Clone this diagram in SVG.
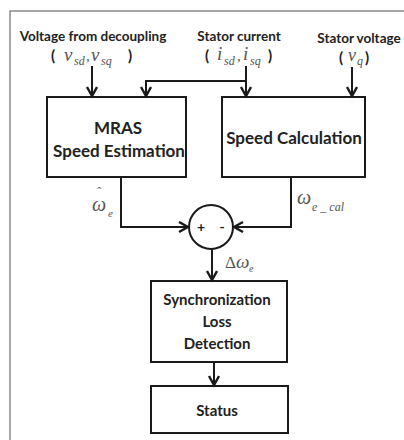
<svg xmlns="http://www.w3.org/2000/svg" width="404" height="440" viewBox="0 0 404 440">
<style>
.lbl{font-family:Lato,"Open Sans","Liberation Sans",sans-serif;font-weight:bold;fill:#222;}
.m{font-family:"Liberation Serif","DejaVu Serif",serif;font-style:italic;fill:#555;}
.up{font-family:"Liberation Serif","DejaVu Serif",serif;fill:#555;}
.box{fill:#fff;stroke:#1a1a1a;stroke-width:2;}
.ln{fill:none;stroke:#1a1a1a;stroke-width:2;}
</style>
<defs>
<marker id="arr" markerUnits="userSpaceOnUse" markerWidth="14" markerHeight="14" refX="11" refY="6" orient="auto">
<path d="M2,1 L11,6 L2,11" fill="none" stroke="#1a1a1a" stroke-width="2.4"/>
</marker>
</defs>
<rect x="0" y="0" width="404" height="440" fill="#fff"/>
<rect x="10" y="11" width="410" height="440" fill="none" stroke="#8a8a8a" stroke-width="1.5"/>

<g id="in-voltage-decoupling">
<text class="lbl" x="93" y="41" font-size="13.5" text-anchor="middle">Voltage from decoupling</text>
<text class="lbl" x="51" y="61" font-size="15">(</text>
<text class="m" x="64" y="61" font-size="19">v</text>
<text class="m" x="74" y="65" font-size="12">sd</text>
<text class="m" x="86" y="61" font-size="15">,</text>
<text class="m" x="91" y="61" font-size="19">v</text>
<text class="m" x="101" y="65" font-size="12">sq</text>
<text class="lbl" x="128" y="61" font-size="15">)</text>
</g>
<g id="in-stator-current">
<text class="lbl" x="239" y="41" font-size="13.5" text-anchor="middle">Stator current</text>
<text class="lbl" x="205" y="61" font-size="15">(</text>
<text class="m" x="217" y="60" font-size="19">i</text>
<text class="m" x="224" y="65" font-size="12">sd</text>
<text class="m" x="237" y="61" font-size="15">,</text>
<text class="m" x="243" y="60" font-size="19">i</text>
<text class="m" x="250" y="65" font-size="12">sq</text>
<text class="lbl" x="268" y="61" font-size="15">)</text>
</g>
<g id="in-stator-voltage">
<text class="lbl" x="359" y="43" font-size="13.5" text-anchor="middle">Stator voltage</text>
<text class="lbl" x="339" y="63" font-size="15">(</text>
<text class="m" x="348" y="61" font-size="18">v</text>
<text class="m" x="357" y="65" font-size="12">q</text>
<text class="lbl" x="365" y="63" font-size="15">)</text>
</g>

<g id="mras">
<rect class="box" x="47" y="97" width="139" height="80"/>
<text class="lbl" x="118" y="134" font-size="17" text-anchor="middle">MRAS</text>
<text class="lbl" x="119" y="157" font-size="17" text-anchor="middle">Speed Estimation</text>
</g>
<g id="speed-calc">
<rect class="box" x="222" y="97" width="143" height="80"/>
<text class="lbl" x="294" y="144" font-size="17" text-anchor="middle">Speed Calculation</text>
</g>
<g id="sum">
<circle cx="211" cy="227" r="22" fill="#fff" stroke="#1a1a1a" stroke-width="2"/>
<text class="lbl" x="201" y="232" font-size="14" text-anchor="middle">+</text>
<text class="lbl" x="222" y="232" font-size="14" text-anchor="middle">-</text>
</g>
<g id="sync">
<rect class="box" x="151" y="281" width="136" height="81"/>
<text class="lbl" x="217" y="305" font-size="15" text-anchor="middle">Synchronization</text>
<text class="lbl" x="217" y="327" font-size="15" text-anchor="middle">Loss</text>
<text class="lbl" x="217" y="349" font-size="15" text-anchor="middle">Detection</text>
</g>
<g id="status">
<rect class="box" x="151" y="386" width="137" height="47"/>
<text class="lbl" x="217" y="416" font-size="15" text-anchor="middle">Status</text>
</g>

<g id="connectors">
<line class="ln" x1="92" y1="66" x2="92" y2="96" marker-end="url(#arr)"/>
<line class="ln" x1="246" y1="66" x2="246" y2="96" marker-end="url(#arr)"/>
<polyline class="ln" points="246,81 146,81 146,96" marker-end="url(#arr)"/>
<line class="ln" x1="352" y1="67" x2="352" y2="96" marker-end="url(#arr)"/>
<polyline class="ln" points="121,177 121,227 188,227" marker-end="url(#arr)"/>
<polyline class="ln" points="291,177 291,227 234,227" marker-end="url(#arr)"/>
<line class="ln" x1="212" y1="249" x2="212" y2="280" marker-end="url(#arr)"/>
<line class="ln" x1="214" y1="362" x2="214" y2="385" marker-end="url(#arr)"/>
</g>

<g id="labels">
<text class="m" x="92" y="211" font-size="20">ω<tspan class="up" x="96" y="196" font-size="13">ˆ</tspan><tspan x="108" y="217" font-size="11">e</tspan></text>
<text class="m" x="297" y="204" font-size="20">ω</text>
<text class="m" x="312" y="211" font-size="12">e _ cal</text>
<text class="up" x="225" y="268" font-size="17">Δ</text>
<text class="m" x="236" y="268" font-size="19">ω</text>
<text class="m" x="249" y="272" font-size="10">e</text>
</g>
</svg>
